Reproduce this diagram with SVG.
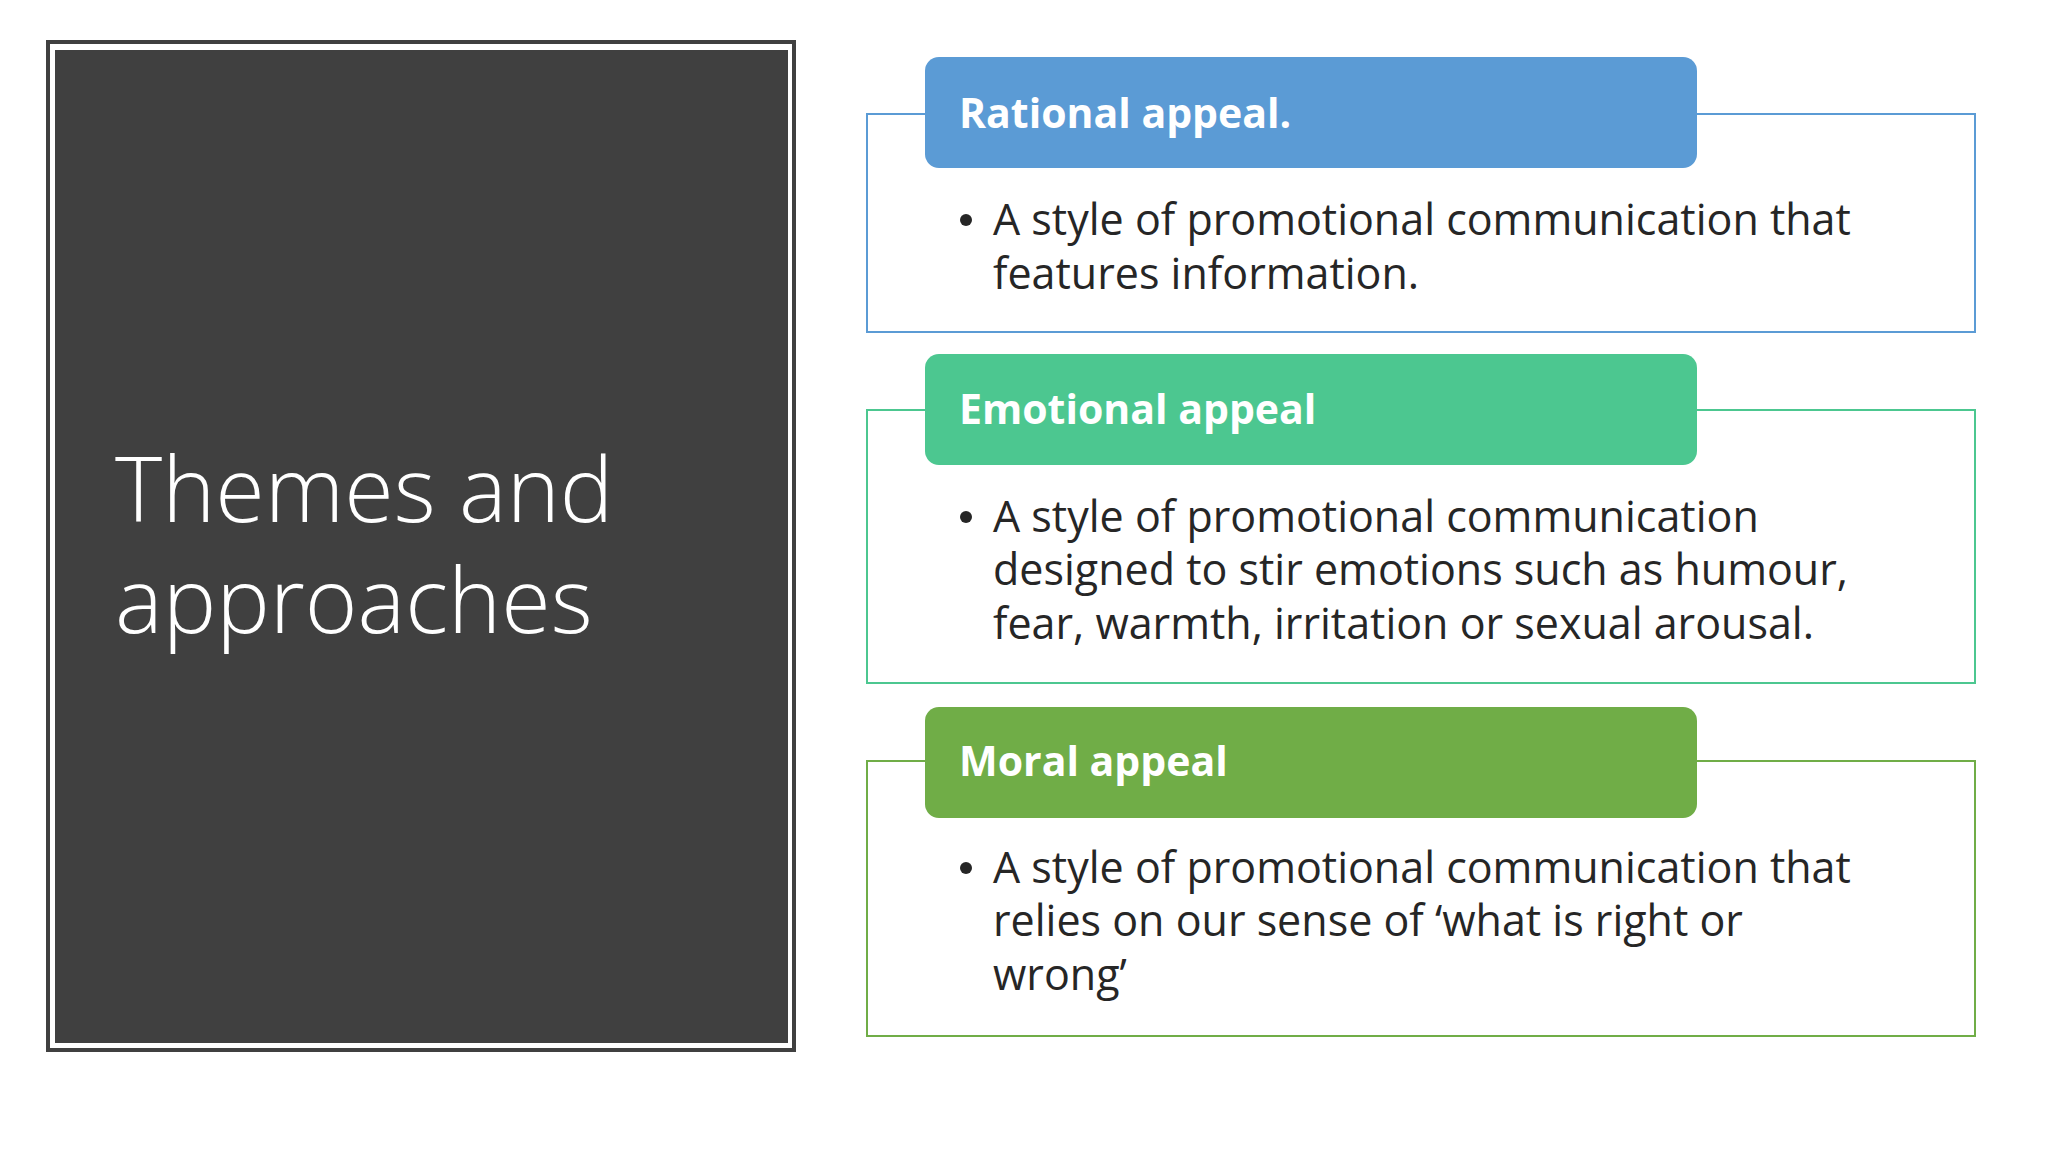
<svg xmlns="http://www.w3.org/2000/svg" width="2048" height="1152" viewBox="0 0 2048 1152">
<style>
.t{font-family:"Open Sans","Noto Sans",sans-serif;fill:#262626;font-size:43px}
.h{font-family:"Open Sans","Noto Sans",sans-serif;fill:#fff;font-size:41px;font-weight:bold}
.o{fill:#fff;stroke-width:2}
.b{fill:#262626}
</style>
<rect width="2048" height="1152" fill="#fff"/>
<g id="title">
<rect x="48" y="42" width="746" height="1008" fill="#fff" stroke="#404040" stroke-width="4"/>
<rect x="55" y="50" width="733" height="993" fill="#404040"/>
<text font-family="'Open Sans','Noto Sans',sans-serif" font-weight="300" font-size="90" fill="#fff"><tspan x="115" y="522">Themes and</tspan><tspan x="115" y="633">approaches</tspan></text>
</g>
<g id="rational">
<rect class="o" x="867" y="114" width="1108" height="218" stroke="#5B9BD5"/>
<rect x="925" y="57" width="772" height="111" rx="14" fill="#5B9BD5"/>
<text class="h" x="959" y="128">Rational appeal.</text>
<circle class="b" cx="966" cy="220" r="6"/>
<text class="t"><tspan x="993" y="235">A style of promotional communication that</tspan><tspan x="993" y="289">features information.</tspan></text>
</g>
<g id="emotional">
<rect class="o" x="867" y="410" width="1108" height="273" stroke="#4CC790"/>
<rect x="925" y="354" width="772" height="111" rx="14" fill="#4CC790"/>
<text class="h" x="959" y="424">Emotional appeal</text>
<circle class="b" cx="966" cy="517" r="6"/>
<text class="t"><tspan x="993" y="532">A style of promotional communication</tspan><tspan x="993" y="585">designed to stir emotions such as humour,</tspan><tspan x="993" y="639">fear, warmth, irritation or sexual arousal.</tspan></text>
</g>
<g id="moral">
<rect class="o" x="867" y="761" width="1108" height="275" stroke="#70AD47"/>
<rect x="925" y="707" width="772" height="111" rx="14" fill="#70AD47"/>
<text class="h" x="959" y="776">Moral appeal</text>
<circle class="b" cx="966" cy="868" r="6"/>
<text class="t"><tspan x="993" y="883">A style of promotional communication that</tspan><tspan x="993" y="936">relies on our sense of ‘what is right or</tspan><tspan x="993" y="990">wrong’</tspan></text>
</g>
<g id="connectors"/>
</svg>
